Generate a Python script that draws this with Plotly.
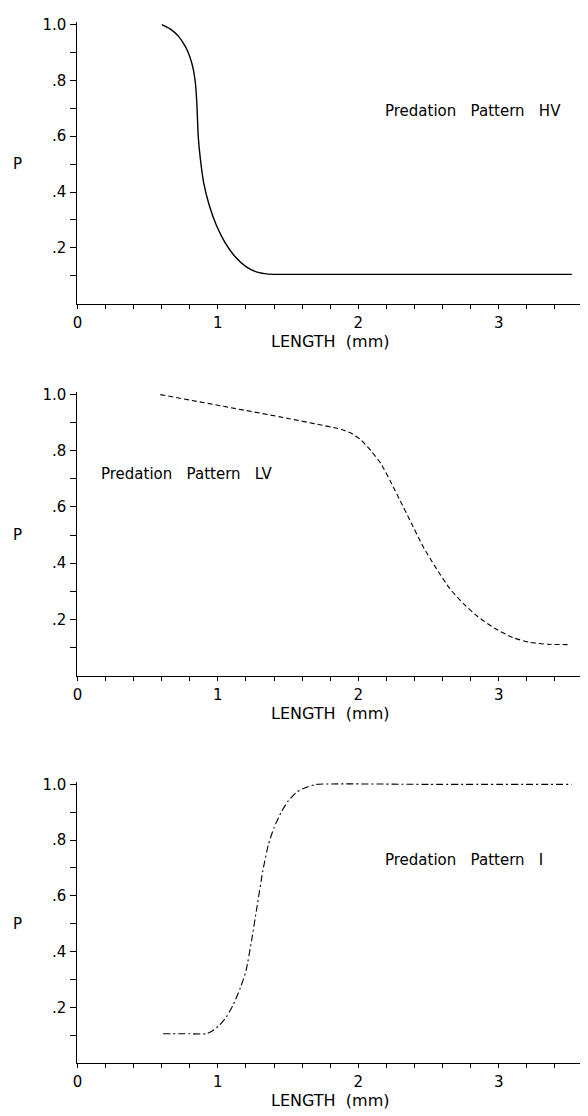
import plotly.graph_objects as go

# ---- data ----
hv_length = [0.60, 0.66, 0.72, 0.77, 0.80, 0.825, 0.84, 0.85, 0.86, 0.875, 0.90, 0.94, 0.99, 1.05, 1.12, 1.20, 1.28, 1.36, 1.5, 2.5, 3.52]
hv_p = [1.0, 0.985, 0.958, 0.92, 0.885, 0.84, 0.79, 0.72, 0.60, 0.52, 0.43, 0.35, 0.28, 0.22, 0.17, 0.133, 0.113, 0.106, 0.105, 0.105, 0.105]

lv_length = [0.59, 1.0, 1.5, 1.88, 1.95, 2.02, 2.09, 2.16, 2.23, 2.30, 2.38, 2.46, 2.55, 2.65, 2.75, 2.85, 2.97, 3.10, 3.22, 3.35, 3.51]
lv_p = [1.0, 0.962, 0.915, 0.876, 0.862, 0.838, 0.80, 0.755, 0.69, 0.62, 0.54, 0.46, 0.385, 0.31, 0.255, 0.21, 0.168, 0.135, 0.118, 0.111, 0.11]

i_length = [0.61, 0.8, 0.915, 0.96, 1.01, 1.06, 1.11, 1.16, 1.20, 1.24, 1.28, 1.32, 1.36, 1.40, 1.45, 1.50, 1.56, 1.63, 1.70, 2.5, 3.52]
i_p = [0.105, 0.105, 0.105, 0.115, 0.135, 0.165, 0.21, 0.27, 0.33, 0.44, 0.565, 0.69, 0.785, 0.845, 0.90, 0.94, 0.972, 0.99, 1.0, 1.0, 1.0]

panel_titles = ["Predation  Pattern  HV", "Predation  Pattern  LV", "Predation  Pattern  I"]

y_tickvals = [0.1, 0.2, 0.3, 0.4, 0.5, 0.6, 0.7, 0.8, 0.9, 1.0]
y_ticktext = ["", ".2", "", ".4", "", ".6", "", ".8", "", "1.0"]
x_tickvals = [0, 0.2, 0.4, 0.6, 0.8, 1.0, 1.2, 1.4, 1.6, 1.8, 2.0, 2.2, 2.4, 2.6, 2.8, 3.0, 3.2, 3.4, 3.6]
x_ticktext = ["0", "", "", "", "", "1", "", "", "", "", "2", "", "", "", "", "3", "", "", ""]

OFF = 8  # page body margin
W, H = 588 - OFF, 1116 - OFF
FONT = "DejaVu Sans"
YTOP = 1.008  # tiny headroom so lines at P=1 are not clipped


def px(xp):
    return (xp - OFF) / W


def py(yp):
    return 1 - (yp - OFF) / H


fig = go.Figure()

series = [
    (hv_length, hv_p, "solid", 1.4),
    (lv_length, lv_p, "5px,3px", 1.1),
    (i_length, i_p, "7px,3px,2px,3px", 1.1),
]
for k, (xs, ys, dash, w) in enumerate(series):
    sfx = "" if k == 0 else str(k + 1)
    fig.add_trace(go.Scatter(
        x=xs, y=ys, mode="lines", xaxis="x" + sfx, yaxis="y" + sfx,
        line=dict(color="black", width=w, dash=dash, shape="spline", smoothing=0.5),
        showlegend=False, hoverinfo="skip"))

# panel geometry in reference pixels: (y pixel of P=0, y pixel of P=1)
panels = [(298.5, 17.7), (672.7, 390.0), (1062.7, 782.3)]
x_left, x_right = 73, 583

layout = dict(
    width=W, height=H, margin=dict(l=0, r=0, t=0, b=0),
    paper_bgcolor="white", plot_bgcolor="white",
    font=dict(family=FONT, color="black", size=15),
    showlegend=False,
)
annotations = []
for k, (y0p, y1p) in enumerate(panels):
    sfx = "" if k == 0 else str(k + 1)
    ytop_px = y1p - (YTOP - 1.0) * (y0p - y1p)
    layout["xaxis" + sfx] = dict(
        domain=[px(x_left), px(x_right)], range=[0, 3.6], anchor="y" + sfx,
        showgrid=False, zeroline=False, showline=True, linecolor="black", linewidth=1.3,
        ticks="outside", ticklen=4, tickwidth=1, tickcolor="black",
        tickvals=x_tickvals, ticktext=x_ticktext, ticklabelstandoff=1,
        tickfont=dict(family=FONT, size=15, color="black"), fixedrange=True)
    layout["yaxis" + sfx] = dict(
        domain=[py(y0p), py(ytop_px)], range=[0, YTOP], anchor="x" + sfx,
        showgrid=False, zeroline=False, showline=True, linecolor="black", linewidth=1.3,
        ticks="outside", ticklen=6, tickwidth=1, tickcolor="black",
        tickvals=y_tickvals, ticktext=y_ticktext, ticklabelstandoff=1,
        tickfont=dict(family=FONT, size=15, color="black"), fixedrange=True)
    annotations.append(dict(text="P", xref="paper", yref="paper",
                            x=px(13), y=py(y1p + 0.5 * (y0p - y1p)), xanchor="center", yanchor="middle",
                            showarrow=False, font=dict(family=FONT, size=15)))
    annotations.append(dict(text="LENGTH&nbsp;&nbsp;(mm)", xref="paper", yref="paper",
                            x=px(328), y=py(y0p + 38), xanchor="center", yanchor="middle",
                            showarrow=False, font=dict(family=FONT, size=16)))

title_pos = [(381, 105), (95, 470), (381, 858)]
for t, (tx, ty) in zip(panel_titles, title_pos):
    annotations.append(dict(text=t.replace(" ", "&nbsp;").replace("&nbsp;&nbsp;", "&nbsp;&nbsp;&nbsp;"),
                            xref="paper", yref="paper",
                            x=px(tx), y=py(ty), xanchor="left", yanchor="middle",
                            showarrow=False, font=dict(family=FONT, size=15)))

layout["annotations"] = annotations
fig.update_layout(**layout)
fig.write_html("out.html")
